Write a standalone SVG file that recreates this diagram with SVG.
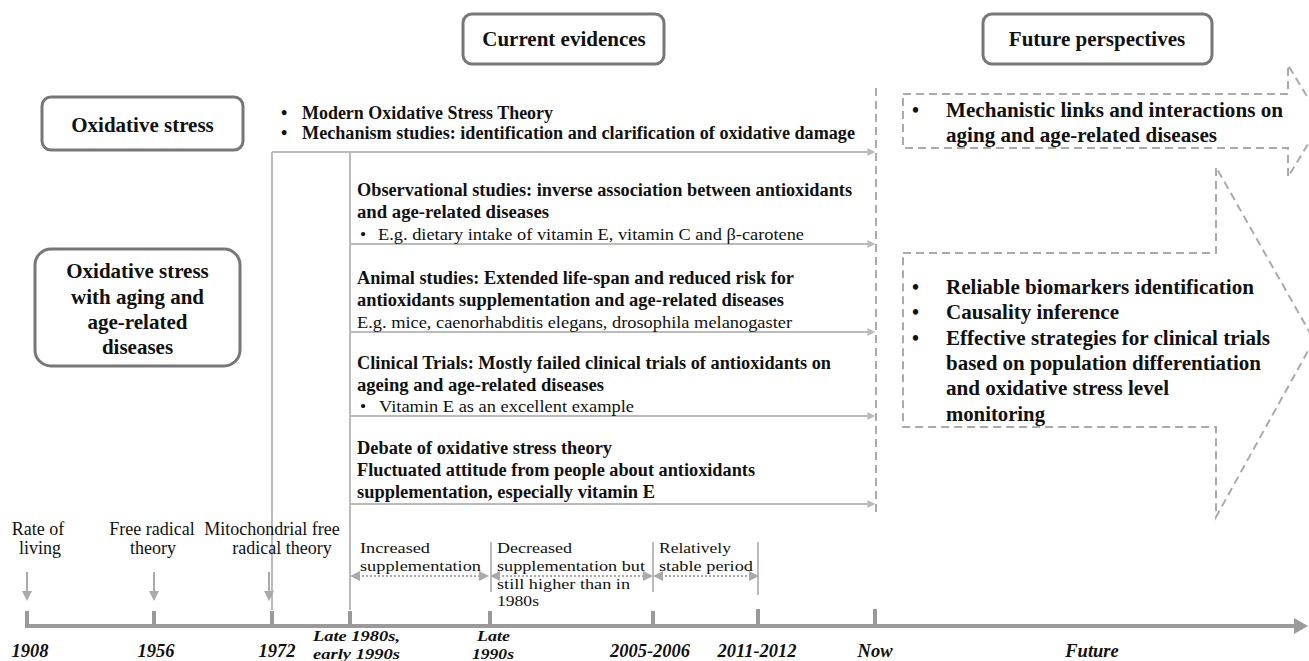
<svg xmlns="http://www.w3.org/2000/svg" width="1309" height="661" viewBox="0 0 1309 661">
<style>
text{font-family:"Liberation Serif","Times New Roman",serif;fill:#111}
.hb{font-weight:bold;font-size:21px}
.rb{font-weight:bold;font-size:20px}
.mb{font-weight:bold;font-size:18px}
.mr{font-size:17.5px}
.sr{font-size:18px}
.pr{font-size:15.5px}
.yr{font-weight:bold;font-style:italic;font-size:18.5px}
.yr2{font-weight:bold;font-style:italic;font-size:15.5px}
.box{fill:#fff;stroke:#777;stroke-width:3}
.conn{stroke:#bbb;stroke-width:2;fill:none}
.dash{stroke:#aaa;stroke-width:2;fill:none;stroke-dasharray:8 5}
.dot{stroke:#aaa;stroke-width:2;fill:none;stroke-dasharray:2 2}
.axis{stroke:#9a9a9a;stroke-width:4;fill:none}
.sep{stroke:#bbb;stroke-width:2;fill:none}
.dar{stroke:#aaa;stroke-width:2;fill:none}
</style>
<defs>
<marker id="ah" viewBox="0 0 10 10" refX="2" refY="5" markerWidth="4" markerHeight="4" orient="auto" markerUnits="strokeWidth">
<path d="M0,0 L10,5 L0,10 Z" fill="#bbb"/>
</marker>
<marker id="ad" viewBox="0 0 10 10" refX="2" refY="5" markerWidth="5" markerHeight="5" orient="auto-start-reverse" markerUnits="strokeWidth">
<path d="M0,0 L10,5 L0,10 Z" fill="#aaa"/>
</marker>
</defs>

<g id="header-current">
<rect class="box" x="463" y="14" width="201" height="50" rx="9"/>
<text class="hb" x="564" y="46" text-anchor="middle">Current evidences</text>
</g>
<g id="header-future">
<rect class="box" x="983" y="14" width="229" height="50" rx="9"/>
<text class="hb" x="1097" y="46" text-anchor="middle">Future perspectives</text>
</g>
<g id="node-oxidative-stress">
<rect class="box" x="42" y="97" width="201" height="53" rx="9"/>
<text class="hb" x="142.5" y="132" text-anchor="middle">Oxidative stress</text>
</g>
<g id="node-oxidative-aging">
<rect class="box" x="35" y="249" width="205" height="117" rx="16"/>
<text class="hb" text-anchor="middle"><tspan x="137.5" y="278">Oxidative stress</tspan><tspan x="137.5" y="304">with aging and</tspan><tspan x="137.5" y="329">age-related</tspan><tspan x="137.5" y="354">diseases</tspan></text>
</g>

<g id="connectors">
<path class="conn" d="M272,152 V610 M350,152 V610"/>
<path class="conn" marker-end="url(#ah)" d="M272,152 H869"/>
<path class="conn" marker-end="url(#ah)" d="M350,244 H869"/>
<path class="conn" marker-end="url(#ah)" d="M350,332 H869"/>
<path class="conn" marker-end="url(#ah)" d="M350,416 H869"/>
<path class="conn" marker-end="url(#ah)" d="M350,504 H869"/>
<path class="dash" d="M876,88 V515"/>
<path class="dash" d="M903,94 H1288 V65 L1322,121 L1288,177 V148 H903 Z"/>
<path class="dash" d="M903,253 H1216 V167 L1314,340 L1216,517 V427 H903 Z"/>
<path class="dar" d="M27,572 V592 M154,572 V592 M269,572 V592"/>
<path d="M22,591 L27,601 L32,591 Z M149,591 L154,601 L159,591 Z M264,591 L269,601 L274,591 Z" fill="#aaa"/>
<path class="sep" d="M491,542 V592 M653,542 V592 M758,542 V595"/>
<path class="dot" marker-start="url(#ad)" marker-end="url(#ad)" d="M358,576 H481"/>
<path class="dot" marker-start="url(#ad)" marker-end="url(#ad)" d="M498,576 H645"/>
<path class="dot" marker-start="url(#ad)" marker-end="url(#ad)" d="M661,576 H751"/>
</g>

<g id="timeline">
<path class="axis" d="M25,626 H1296"/>
<path d="M1294,618 L1308,626 L1294,634 Z" fill="#9a9a9a"/>
<path class="axis" d="M27,611 V626 M154,611 V626 M272,611 V626 M350,611 V626 M490,611 V626 M653,611 V626 M758,609 V626 M875,609 V626"/>
<text class="yr" x="30" y="657" text-anchor="middle">1908</text>
<text class="yr" x="156" y="657" text-anchor="middle">1956</text>
<text class="yr" x="277" y="657" text-anchor="middle">1972</text>
<text class="yr2"><tspan x="313" y="641" textLength="87" lengthAdjust="spacingAndGlyphs">Late 1980s,</tspan><tspan x="313" y="659" textLength="87" lengthAdjust="spacingAndGlyphs">early 1990s</tspan></text>
<text class="yr2"><tspan x="477" y="641" textLength="33" lengthAdjust="spacingAndGlyphs">Late</tspan><tspan x="472" y="659" textLength="42" lengthAdjust="spacingAndGlyphs">1990s</tspan></text>
<text class="yr" x="650" y="657" text-anchor="middle">2005-2006</text>
<text class="yr" x="757" y="657" text-anchor="middle">2011-2012</text>
<text class="yr" x="875" y="657" text-anchor="middle">Now</text>
<text class="yr" x="1092" y="657" text-anchor="middle">Future</text>
</g>

<g id="event-rate-of-living">
<text class="sr" text-anchor="middle"><tspan x="38" y="535">Rate of</tspan><tspan x="40" y="554">living</tspan></text>
</g>
<g id="event-free-radical">
<text class="sr" text-anchor="middle"><tspan x="152" y="535">Free radical</tspan><tspan x="153" y="554">theory</tspan></text>
</g>
<g id="event-mitochondrial">
<text class="sr" text-anchor="middle"><tspan x="272" y="535">Mitochondrial free</tspan><tspan x="282" y="554">radical theory</tspan></text>
</g>

<g id="period-increased">
<text class="pr"><tspan x="360" y="553" textLength="70" lengthAdjust="spacingAndGlyphs">Increased</tspan><tspan x="360" y="570.8" textLength="121" lengthAdjust="spacingAndGlyphs">supplementation</tspan></text>
</g>
<g id="period-decreased">
<text class="pr"><tspan x="497" y="553" textLength="75" lengthAdjust="spacingAndGlyphs">Decreased</tspan><tspan x="497" y="570.8" textLength="148" lengthAdjust="spacingAndGlyphs">supplementation but</tspan><tspan x="497" y="588.6" textLength="133" lengthAdjust="spacingAndGlyphs">still higher than in</tspan><tspan x="497" y="606.4" textLength="42" lengthAdjust="spacingAndGlyphs">1980s</tspan></text>
</g>
<g id="period-stable">
<text class="pr"><tspan x="659" y="553" textLength="72" lengthAdjust="spacingAndGlyphs">Relatively</tspan><tspan x="659" y="570.8" textLength="94" lengthAdjust="spacingAndGlyphs">stable period</tspan></text>
</g>

<g id="node-modern-theory">
<text class="mb"><tspan x="281" y="119">•</tspan><tspan x="302" y="119" textLength="251" lengthAdjust="spacingAndGlyphs">Modern Oxidative Stress Theory</tspan></text>
<text class="mb"><tspan x="281" y="139">•</tspan><tspan x="302" y="139" textLength="553" lengthAdjust="spacingAndGlyphs">Mechanism studies: identification and clarification of oxidative damage</tspan></text>
</g>
<g id="node-observational">
<text class="mb" x="357" y="196" textLength="495" lengthAdjust="spacingAndGlyphs">Observational studies: inverse association between antioxidants</text>
<text class="mb" x="357" y="218" textLength="192" lengthAdjust="spacingAndGlyphs">and age-related diseases</text>
<text class="mr"><tspan x="360" y="240">•</tspan><tspan x="378" y="240" textLength="426" lengthAdjust="spacingAndGlyphs">E.g. dietary intake of vitamin E, vitamin C and β-carotene</tspan></text>
</g>
<g id="node-animal">
<text class="mb" x="357" y="284" textLength="437" lengthAdjust="spacingAndGlyphs">Animal studies: Extended life-span and reduced risk for</text>
<text class="mb" x="357" y="306" textLength="427" lengthAdjust="spacingAndGlyphs">antioxidants supplementation and age-related diseases</text>
<text class="mr" x="357" y="328" textLength="435" lengthAdjust="spacingAndGlyphs">E.g. mice, caenorhabditis elegans, drosophila melanogaster</text>
</g>
<g id="node-clinical">
<text class="mb" x="357" y="369" textLength="474" lengthAdjust="spacingAndGlyphs">Clinical Trials: Mostly failed clinical trials of antioxidants on</text>
<text class="mb" x="357" y="391" textLength="247" lengthAdjust="spacingAndGlyphs">ageing and age-related diseases</text>
<text class="mr"><tspan x="360" y="412">•</tspan><tspan x="379" y="412" textLength="255" lengthAdjust="spacingAndGlyphs">Vitamin E as an excellent example</tspan></text>
</g>
<g id="node-debate">
<text class="mb" x="357" y="454" textLength="255" lengthAdjust="spacingAndGlyphs">Debate of oxidative stress theory</text>
<text class="mb" x="357" y="476" textLength="398" lengthAdjust="spacingAndGlyphs">Fluctuated attitude from people about antioxidants</text>
<text class="mb" x="357" y="498" textLength="298" lengthAdjust="spacingAndGlyphs">supplementation, especially vitamin E</text>
</g>

<g id="node-future-mechanistic">
<text class="rb"><tspan x="912" y="117">•</tspan><tspan x="946" y="117" textLength="337" lengthAdjust="spacingAndGlyphs">Mechanistic links and interactions on</tspan></text>
<text class="rb" x="946" y="142" textLength="271" lengthAdjust="spacingAndGlyphs">aging and age-related diseases</text>
</g>
<g id="node-future-strategies">
<text class="rb"><tspan x="912" y="294">•</tspan><tspan x="946" y="294" textLength="308" lengthAdjust="spacingAndGlyphs">Reliable biomarkers identification</tspan></text>
<text class="rb"><tspan x="912" y="319">•</tspan><tspan x="946" y="319" textLength="173" lengthAdjust="spacingAndGlyphs">Causality inference</tspan></text>
<text class="rb"><tspan x="912" y="345">•</tspan><tspan x="946" y="345" textLength="324" lengthAdjust="spacingAndGlyphs">Effective strategies for clinical trials</tspan></text>
<text class="rb" x="946" y="370" textLength="315" lengthAdjust="spacingAndGlyphs">based on population differentiation</text>
<text class="rb" x="946" y="395" textLength="223" lengthAdjust="spacingAndGlyphs">and oxidative stress level</text>
<text class="rb" x="946" y="421" textLength="99" lengthAdjust="spacingAndGlyphs">monitoring</text>
</g>
</svg>
